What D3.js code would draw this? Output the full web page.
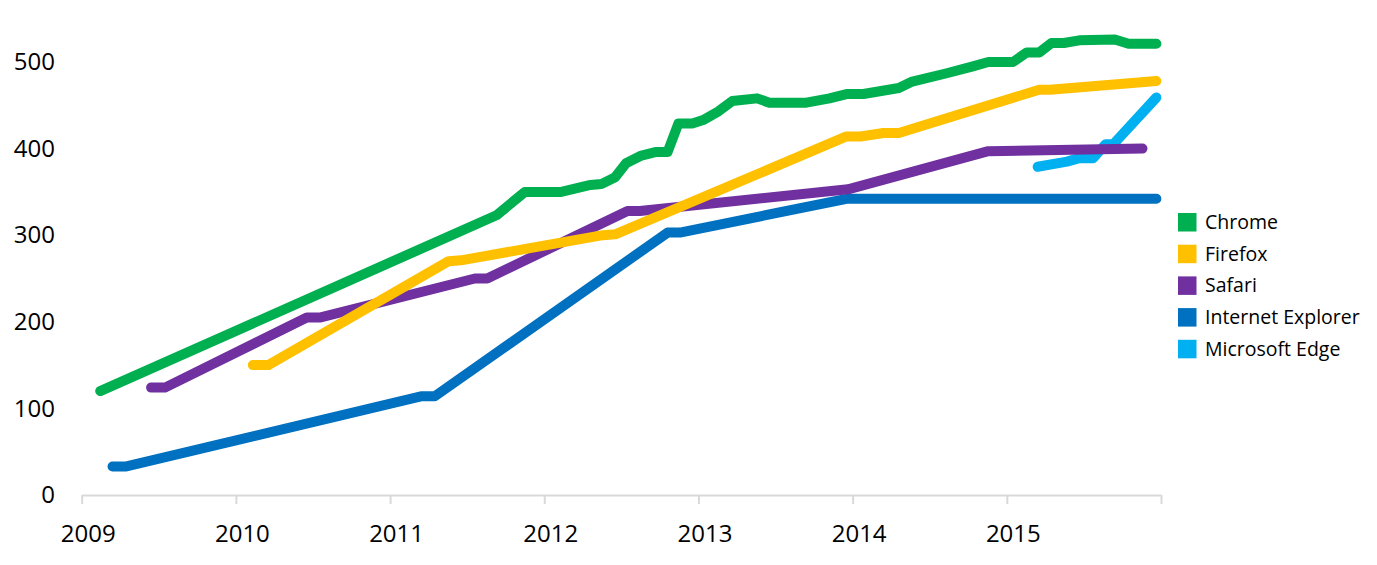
<!DOCTYPE html>
<html>
<head>
<meta charset="utf-8">
<title>Browser scores 2009-2015</title>
<script src="https://cdnjs.cloudflare.com/ajax/libs/d3/7.8.5/d3.min.js"></script>
<style>
    body { margin: 0; background: #fff; }
    svg { display: block; }
</style>
</head>
<body>
<script>
// series names, colours (legend order)
var browsers = ["Chrome", "Firefox", "Safari", "Internet Explorer", "Microsoft Edge"];
var colors = ["#00B050", "#FFC000", "#7030A0", "#0070C0", "#00B0F0"];

// values: [year, score]
var chrome = [
    [2009.12, 120], [2011.69, 323], [2011.875, 350], [2012.11, 350], [2012.30, 358],
    [2012.37, 359], [2012.46, 367], [2012.53, 383], [2012.63, 392], [2012.72, 396],
    [2012.80, 396], [2012.87, 429], [2012.96, 429], [2013.03, 433], [2013.13, 443],
    [2013.22, 455], [2013.38, 458], [2013.46, 453], [2013.70, 453], [2013.85, 458],
    [2013.96, 463], [2014.07, 463], [2014.30, 470], [2014.38, 477], [2014.61, 487],
    [2014.78, 495], [2014.88, 500], [2015.04, 500], [2015.13, 511], [2015.21, 511],
    [2015.29, 522], [2015.37, 522], [2015.47, 525], [2015.70, 526], [2015.79, 521],
    [2015.97, 521]
];
var firefox = [
    [2010.11, 150], [2010.21, 150], [2011.38, 270], [2011.46, 271], [2012.38, 300],
    [2012.46, 301], [2013.96, 414], [2014.05, 414], [2014.20, 418], [2014.30, 418],
    [2015.21, 468], [2015.28, 468], [2015.97, 478]
];
var safari = [
    [2009.45, 124], [2009.54, 124], [2010.46, 205], [2010.55, 205], [2011.55, 250],
    [2011.63, 250], [2012.54, 328], [2012.62, 328], [2013.97, 353], [2014.88, 397],
    [2015.88, 400]
];
var ie = [
    [2009.20, 33], [2009.29, 33], [2011.20, 114], [2011.29, 114], [2012.80, 303],
    [2012.88, 303], [2013.96, 342], [2015.97, 342]
];
var edge = [
    [2015.20, 379], [2015.39, 385], [2015.47, 389], [2015.56, 389], [2015.64, 405],
    [2015.69, 405], [2015.97, 459]
];
var seriesValues = [chrome, firefox, safari, ie, edge];

var xTicks = [2009, 2010, 2011, 2012, 2013, 2014, 2015, 2016];
var yTicks = [0, 100, 200, 300, 400, 500];

var w = 1377, h = 565;
var font = "'Open Sans', 'Segoe UI', sans-serif";

var svg = d3.select("body").append("svg")
    .attr("width", w)
    .attr("height", h);

var x = d3.scaleLinear().domain([2009, 2016]).range([81.7, 1161]);
var y = d3.scaleLinear().domain([0, 500]).range([495, 62]);

// x axis - grey baseline with ticks, labels sit a little right of the tick
var xAxis = svg.append("g")
    .attr("transform", "translate(0," + y(0) + ")")
    .call(d3.axisBottom(x)
        .tickValues(xTicks)
        .tickSize(9)
        .tickSizeOuter(0)
        .tickFormat(function(d) { return d === 2016 ? "" : d3.format("d")(d); }));

xAxis.select(".domain")
    .attr("stroke", "#d9d9d9")
    .attr("stroke-width", 2);
xAxis.selectAll(".tick line")
    .attr("stroke", "#d9d9d9")
    .attr("stroke-width", 2);
xAxis.selectAll(".tick text")
    .attr("y", 47)
    .attr("dy", 0)
    .attr("dx", 6)
    .attr("fill", "#000")
    .style("font-family", font)
    .style("font-size", "24px");

// y axis - labels only
var yAxis = svg.append("g")
    .attr("transform", "translate(58,0)")
    .call(d3.axisLeft(y).tickValues(yTicks).tickSize(0).tickPadding(3));

yAxis.select(".domain").remove();
yAxis.selectAll(".tick text")
    .attr("fill", "#000")
    .style("font-family", font)
    .style("font-size", "24px");

// lines, drawn last-to-first so Chrome sits on top
var line = d3.line()
    .x(function(d) { return x(d[0]); })
    .y(function(d) { return y(d[1]); });

var order = d3.range(browsers.length).reverse();

svg.append("g")
    .selectAll("path")
    .data(order)
    .enter()
    .append("path")
    .attr("d", function(i) { return line(seriesValues[i]); })
    .attr("fill", "none")
    .attr("stroke", function(i) { return colors[i]; })
    .attr("stroke-width", 10)
    .attr("stroke-linecap", "round")
    .attr("stroke-linejoin", "round");

// legend
var legend = svg.append("g")
    .selectAll("g")
    .data(browsers)
    .enter()
    .append("g")
    .attr("transform", function(d, i) { return "translate(1178," + (222 + i * 31.7) + ")"; });

legend.append("rect")
    .attr("x", 0)
    .attr("y", -9)
    .attr("width", 18.5)
    .attr("height", 18.5)
    .attr("fill", function(d, i) { return colors[i]; });

legend.append("text")
    .text(function(d) { return d; })
    .attr("x", 27)
    .attr("y", 0)
    .attr("dy", "0.35em")
    .attr("fill", "#000")
    .style("font-family", font)
    .style("font-size", "19.5px");
</script>
</body>
</html>
